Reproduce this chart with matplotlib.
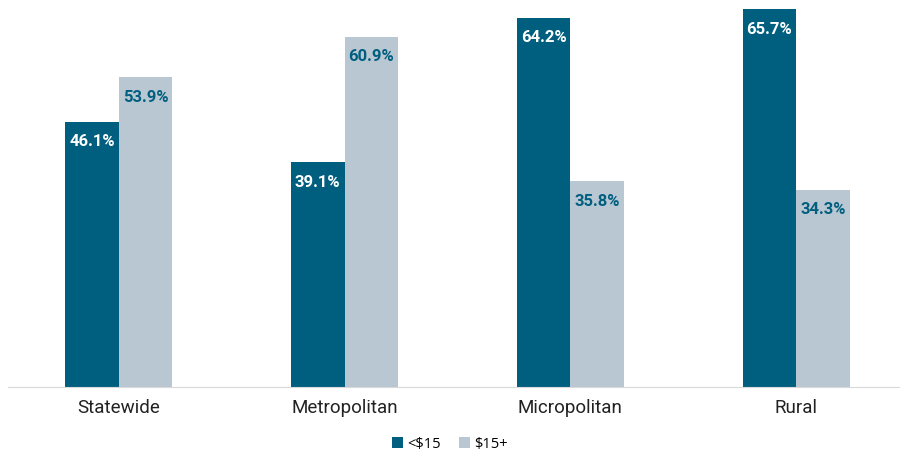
import numpy as np
import matplotlib.pyplot as plt

# share of workers by wage band, per region type
regions = ["Statewide", "Metropolitan", "Micropolitan", "Rural"]
under_15 = [46.1, 39.1, 64.2, 65.7]
over_15 = [53.9, 60.9, 35.8, 34.3]

dark = "#005f7f"
light = "#b9c7d3"

fig = plt.figure(figsize=(9, 4.52), dpi=100)
ax = fig.add_axes([0.009, 0.142, 0.991, 0.858])

x = np.arange(len(regions))
w = 0.237
b1 = ax.bar(x - w / 2, under_15, w, color=dark, label="<$15")
b2 = ax.bar(x + w / 2, over_15, w, color=light, label="$15+")

for bars, vals, col in ((b1, under_15, "white"), (b2, over_15, dark)):
    for r, v in zip(bars, vals):
        ax.annotate(f"{v}%", (r.get_x() + r.get_width() / 2, v),
                    xytext=(0, -19), textcoords="offset pixels",
                    ha="center", va="center", color=col,
                    fontsize=12, fontweight="bold", family="Roboto")

ax.set_xlim(-0.49, 3.46)
ax.set_ylim(0, 67.5)
ax.set_xticks(x)
ax.set_xticklabels(regions, fontsize=13.5, family="Roboto", color="#222222")
ax.tick_params(axis="x", length=0, pad=8)
ax.set_yticks([])
for s in ("top", "right", "left"):
    ax.spines[s].set_visible(False)
ax.spines["bottom"].set_color("#d9d9d9")

ax.legend(loc="center", bbox_to_anchor=(0.5, 0.016), bbox_transform=fig.transFigure,
          ncol=2, frameon=False, handlelength=0.75, handleheight=0.75,
          handletextpad=0.3, columnspacing=1.2, borderpad=0.1,
          prop={"family": "Open Sans", "size": 10.5})

fig.savefig("out.png")
